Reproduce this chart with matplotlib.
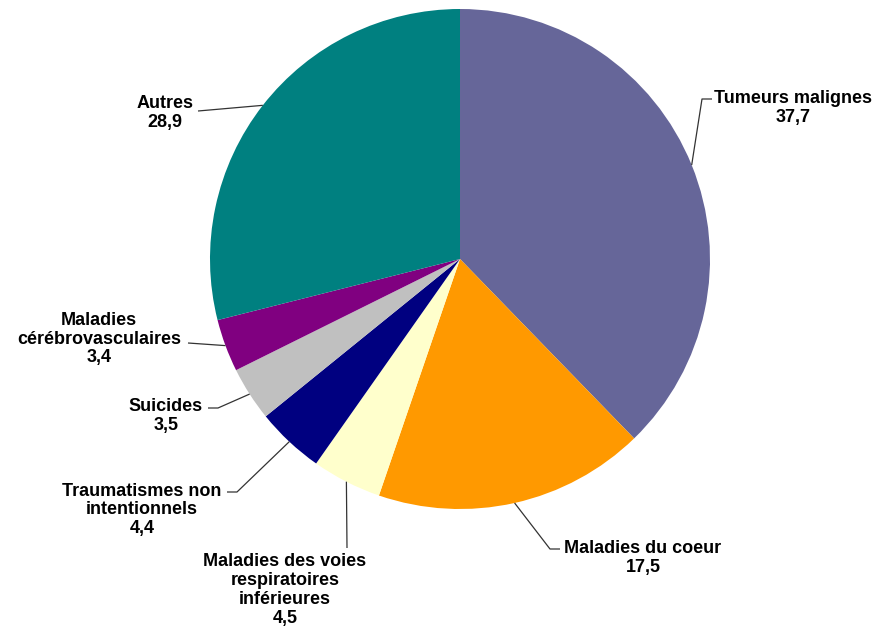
import numpy as np
import matplotlib.pyplot as plt

plt.rcParams["font.family"] = ["Liberation Sans", "DejaVu Sans"]

causes = ["Tumeurs malignes", "Maladies du coeur",
          "Maladies des voies\nrespiratoires\ninférieures",
          "Traumatismes non\nintentionnels", "Suicides",
          "Maladies\ncérébrovasculaires", "Autres"]
valeurs = [37.7, 17.5, 4.5, 4.4, 3.5, 3.4, 28.9]
couleurs = ["#666699", "#FF9900", "#FFFFCC", "#000080",
            "#C0C0C0", "#800080", "#008080"]

# position du texte, coude du trait, bout du trait (en pixels)
etiquettes = [
    ((793, 108), (702, 99), (712, 99)),
    ((643, 558), (550, 549), (560, 549)),
    ((285, 590), (347, 548), (347, 548)),
    ((142, 510), (237, 492), (227, 492)),
    ((166, 416), (218, 408), (208, 408)),
    ((99, 339), (188, 343), (188, 343)),
    ((165, 113), (198, 111), (198, 111)),
]

cx, cy, r = 460, 259, 250

fig = plt.figure(figsize=(8.81, 6.30), dpi=100)
ax = fig.add_axes([0, 0, 1, 1])

wedges, _ = ax.pie(valeurs, colors=couleurs, startangle=-90, counterclock=True,
                   center=(cx, cy), radius=r, frame=True,
                   wedgeprops=dict(linewidth=0))
ax.set_xlim(0, 881)
ax.set_ylim(630, 0)
ax.axis("off")

for w, nom, val, (pos, coude, bout) in zip(wedges, causes, valeurs, etiquettes):
    a = np.deg2rad((w.theta1 + w.theta2) / 2)
    x0, y0 = cx + r * np.cos(a), cy + r * np.sin(a)
    ax.plot([x0, coude[0], bout[0]], [y0, coude[1], bout[1]],
            color="#333333", lw=0.9, solid_capstyle="butt")
    ax.text(pos[0], pos[1], f"{nom}\n{val:.1f}".replace(".", ","),
            ha="center", va="center", fontsize=13, fontweight="bold",
            linespacing=1.13)

fig.savefig("out.png", dpi=100)
